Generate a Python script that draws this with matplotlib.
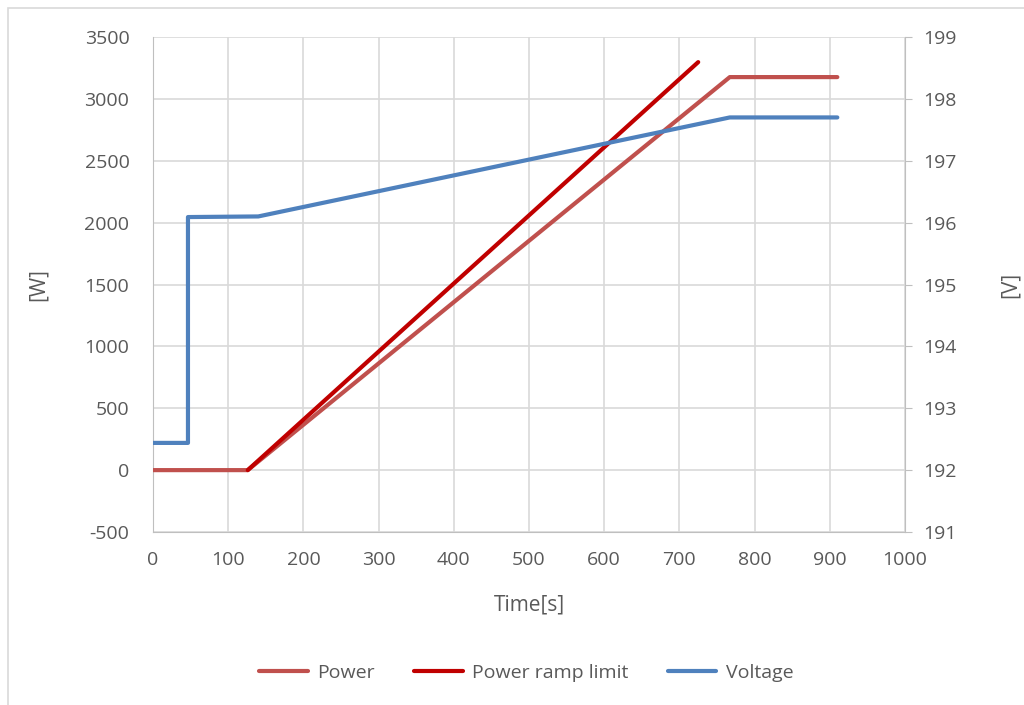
import matplotlib
matplotlib.use('Agg')
import matplotlib.pyplot as plt
from matplotlib.patches import Rectangle

plt.rcParams['font.family'] = ['Open Sans', 'DejaVu Sans']
plt.rcParams['axes.unicode_minus'] = False

# Data
power_t = [0, 126, 767, 910]
power_w = [0, 0, 3176, 3176]
ramp_t = [126, 725]
ramp_w = [0, 3297]
volt_t = [0, 46.5, 46.5, 140, 767, 910]
volt_v = [192.44, 192.44, 196.09, 196.1, 197.70, 197.70]

x_ticks = list(range(0, 1001, 100))
w_ticks = list(range(-500, 3501, 500))
v_ticks = list(range(191, 200))

TXT = '#595959'
GRID = '#D9D9D9'
SPINE = '#BFBFBF'
C_POW = '#C0504D'
C_RAMP = '#C00000'
C_VOLT = '#4F81BD'

fig = plt.figure(figsize=(10.24, 7.05), dpi=100, facecolor='white')
fig.patches.append(Rectangle((8 / 1024, -0.1), 1.2, 1 - 8 / 705 + 0.1,
                             transform=fig.transFigure, fill=False,
                             ec='#D9D9D9', lw=1.2))
ax = fig.add_axes([153 / 1024, 1 - 532 / 705, (905 - 153) / 1024, (532 - 37) / 705])
ax2 = ax.twinx()

ax.set_xlim(0, 1000)
ax.set_ylim(-500, 3500)
ax2.set_ylim(191, 199)
ax.set_xticks(x_ticks)
ax.set_yticks(w_ticks)
ax2.set_yticks(v_ticks)
ax.grid(True, color=GRID, lw=1.2)
ax.set_axisbelow(True)

for a in (ax, ax2):
    for s in a.spines.values():
        s.set_visible(False)
    a.tick_params(colors=TXT, labelsize=14, length=0)
ax.spines['left'].set_visible(True)
ax.spines['left'].set_color(SPINE)
ax.spines['bottom'].set_visible(True)
ax.spines['bottom'].set_color(SPINE)
ax2.spines['right'].set_visible(True)
ax2.spines['right'].set_color(SPINE)
ax2.tick_params(axis='y', length=5, color=SPINE, pad=8)
ax.tick_params(axis='x', pad=14)
ax.tick_params(axis='y', pad=17)

lp, = ax.plot(power_t, power_w, color=C_POW, lw=3, solid_capstyle='round', label='Power', zorder=3)
lr, = ax.plot(ramp_t, ramp_w, color=C_RAMP, lw=3, solid_capstyle='round', label='Power ramp limit', zorder=3)
lv, = ax2.plot(volt_t, volt_v, color=C_VOLT, lw=3, solid_capstyle='round', label='Voltage', zorder=3)

ax.set_xlabel('Time[s]', color=TXT, fontsize=15, labelpad=18)
ax.set_ylabel('[W]', color=TXT, fontsize=15, labelpad=26)
ax2.set_ylabel('[V]', color=TXT, fontsize=15, labelpad=31)

fig.legend(handles=[lp, lr, lv], loc='center', bbox_to_anchor=(0.514, 1 - 673 / 705),
           ncol=3, frameon=False, fontsize=14, labelcolor=TXT,
           handlelength=2.5, handletextpad=0.5, columnspacing=2.0)

fig.savefig('out.png', dpi=100, facecolor='white')
